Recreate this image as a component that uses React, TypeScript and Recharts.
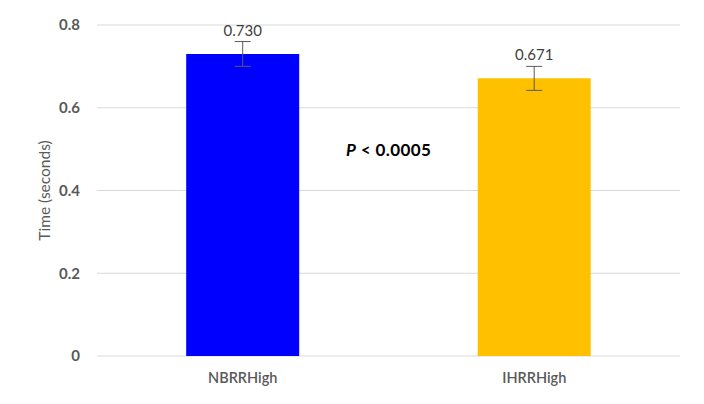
import React from 'react';
import { BarChart, Bar, XAxis, YAxis, CartesianGrid, Cell, ErrorBar, LabelList } from 'recharts';

const categories = ['NBRRHigh', 'IHRRHigh'];
const meanTimes = [0.73, 0.671];
const errors = [0.03, 0.029];
const yTicks = [0, 0.2, 0.4, 0.6, 0.8];

const COLORS = ['#0000FF', '#FFC000'];
const FONT = 'Lato, "Open Sans", sans-serif';

const data = categories.map((name, i) => ({ name, value: meanTimes[i], err: errors[i] }));

const App: React.FC = () => {
  return (
    <div style={{ width: 704, height: 404, margin: -8, background: '#e6e6e6', fontFamily: FONT }}>
      <div
        style={{
          position: 'relative',
          left: 4,
          top: 4,
          width: 697,
          height: 397,
          boxSizing: 'border-box',
          borderStyle: 'solid',
          borderColor: '#000',
          borderWidth: '2px 3px 3px 2px',
          background: '#fff',
        }}
      >
        <div style={{ position: 'absolute', left: -6, top: -6 }}>
          <BarChart width={704} height={404} data={data} margin={{ top: 25, right: 24, bottom: 18, left: 0 }} barCategoryGap="30.6%">
            <CartesianGrid vertical={false} stroke="#d9d9d9" />
            <XAxis
              dataKey="name"
              height={30}
              axisLine={false}
              tickLine={false}
              tickSize={0}
              tickMargin={17}
              tick={{ fill: '#595959', fontSize: 14.5, fontWeight: 600, fontFamily: FONT }}
            />
            <YAxis
              width={97}
              domain={[0, 0.8]}
              ticks={yTicks}
              axisLine={false}
              tickLine={false}
              tickSize={0}
              tickMargin={17}
              tickFormatter={(v: number) => String(v)}
              tick={{ fill: '#595959', fontSize: 15, fontWeight: 700, fontFamily: FONT }}
              label={{
                value: 'Time (seconds)',
                angle: -90,
                position: 'insideLeft',
                offset: 44,
                style: { textAnchor: 'middle', fill: '#595959', fontSize: 15.5, fontFamily: FONT },
              }}
            />
            <Bar dataKey="value" isAnimationActive={false}>
              {data.map((entry, index) => (
                <Cell key={`cell-${index}`} fill={COLORS[index % COLORS.length]} />
              ))}
              <ErrorBar dataKey="err" width={8} stroke="#595959" strokeWidth={1} />
              <LabelList
                dataKey="value"
                position="top"
                offset={18}
                formatter={(v: number) => v.toFixed(3)}
                style={{ fill: '#404040', fontSize: 15, fontFamily: FONT }}
              />
            </Bar>
          </BarChart>
        </div>
        <div
          style={{
            position: 'absolute',
            left: 340,
            top: 134,
            fontSize: 17,
            fontWeight: 700,
            letterSpacing: 0.4,
            color: '#000',
            whiteSpace: 'nowrap',
            lineHeight: '20px',
          }}
        >
          <i>P</i> &lt; 0.0005
        </div>
      </div>
    </div>
  );
};

export default App;
